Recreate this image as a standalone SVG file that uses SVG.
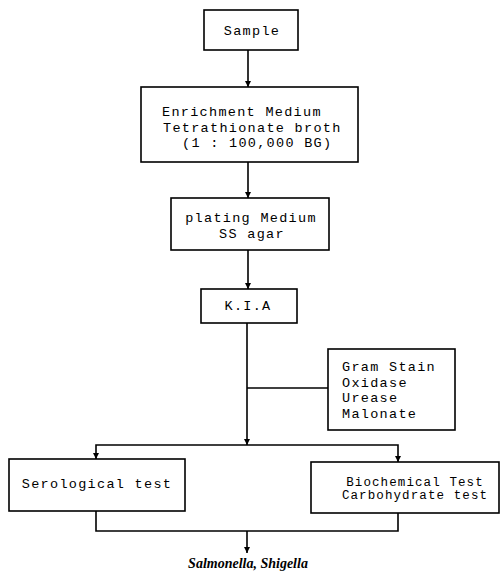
<svg xmlns="http://www.w3.org/2000/svg" width="501" height="577" viewBox="0 0 501 577">
<defs>
<style>
.box{fill:#fff;stroke:#000;stroke-width:1.6}
.t{font-family:"Liberation Mono","DejaVu Sans Mono",monospace;font-size:13.5px;letter-spacing:1.3px;fill:#000}
.ts{font-family:"Liberation Mono","DejaVu Sans Mono",monospace;font-size:12.5px;letter-spacing:1.1px;fill:#000}
.c{text-anchor:middle}
.ln{fill:none;stroke:#000;stroke-width:1.6}
.res{font-family:"Liberation Serif","DejaVu Serif",serif;font-style:italic;font-weight:bold;font-size:14px;fill:#000}
</style>
<marker id="ah" markerUnits="userSpaceOnUse" markerWidth="6" markerHeight="7" refX="6" refY="3" orient="auto">
<path d="M0,0 L6,3 L0,6 z" fill="#000"/>
</marker>
</defs>
<rect width="501" height="577" fill="#fff"/>
<g id="connectors">
<path class="ln" d="M248 50 V87" marker-end="url(#ah)"/>
<path class="ln" d="M248 162 V198" marker-end="url(#ah)"/>
<path class="ln" d="M248 250 V289" marker-end="url(#ah)"/>
<path class="ln" d="M247 323 V445" marker-end="url(#ah)"/>
<path class="ln" d="M247 388 H328"/>
<path class="ln" d="M247 445 H96 V459" marker-end="url(#ah)"/>
<path class="ln" d="M247 445 H398 V462" marker-end="url(#ah)"/>
<path class="ln" d="M96 511 V531 H398 V513"/>
<path class="ln" d="M247 531 V553" marker-end="url(#ah)"/>
</g>
<g id="sample">
<rect class="box" x="204" y="10" width="94" height="40"/>
<text class="t c" x="252" y="35">Sample</text>
</g>
<g id="enrichment">
<rect class="box" x="141" y="87" width="217" height="75"/>
<text class="t" x="162" y="116">Enrichment Medium</text>
<text class="t" x="163" y="131.5">Tetrathionate broth</text>
<text class="t" x="182" y="147">(1 : 100,000 BG)</text>
</g>
<g id="plating">
<rect class="box" x="171" y="198" width="158" height="52"/>
<text class="t c" x="251" y="222">plating Medium</text>
<text class="t c" x="252" y="238">SS agar</text>
</g>
<g id="kia">
<rect class="box" x="201" y="289" width="96" height="34"/>
<text class="t c" x="248" y="310">K.I.A</text>
</g>
<g id="tests">
<rect class="box" x="328" y="349" width="127" height="81"/>
<text class="t" x="342" y="371">Gram Stain</text>
<text class="t" x="342" y="386.5">Oxidase</text>
<text class="t" x="342" y="402">Urease</text>
<text class="t" x="342" y="417.5">Malonate</text>
</g>
<g id="serological">
<rect class="box" x="9" y="459" width="176" height="52"/>
<text class="t c" x="97" y="488">Serological test</text>
</g>
<g id="biochemical">
<rect class="box" x="311" y="462" width="188" height="51"/>
<text class="ts c" x="415" y="485.5">Biochemical Test</text>
<text class="ts c" x="415" y="499">Carbohydrate test</text>
</g>
<g id="result">
<text class="res c" x="248" y="568">Salmonella, Shigella</text>
</g>
</svg>
